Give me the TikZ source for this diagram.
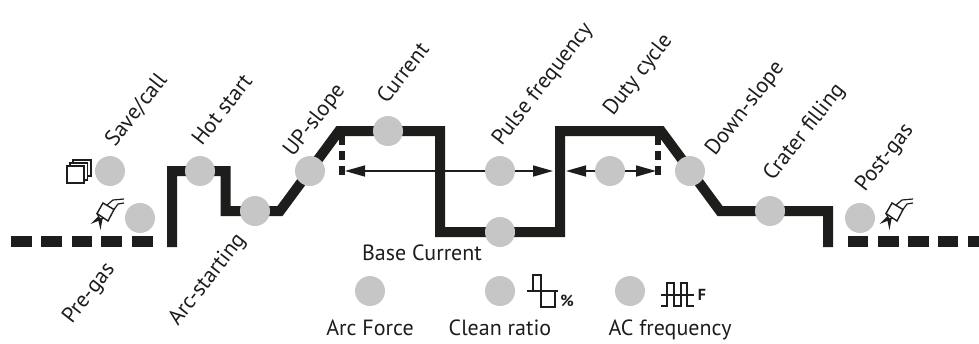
\documentclass[tikz,border=0pt]{standalone}
\usepackage{fontspec}
\setmainfont{PT Sans}
\usetikzlibrary{arrows.meta}
\definecolor{ink}{HTML}{1D1D1B}
\definecolor{dot}{HTML}{C6C6C6}
\tikzset{
 wave/.style={draw=ink,line width=10pt,miter limit=10},
 gasbar/.style={fill=ink,draw=none,minimum width=#1,minimum height=11pt,inner sep=0pt,outer sep=0pt},
 knob/.style={circle,fill=dot,draw=none,minimum size=30pt,inner sep=0pt},
 span/.style={draw=ink,line width=1.6pt,{Triangle[length=20pt,width=11pt]}-{Triangle[length=20pt,width=11pt]}},
 tick/.style={draw=ink,line width=6pt,dash pattern=on 9pt off 6pt},
 lab/.style={text=ink,font=\fontsize{22}{22}\selectfont,inner sep=0pt},
 slant/.style={lab,rotate=52,anchor=base west},
 flat/.style={lab,anchor=base},
 icon/.style={draw=ink,line width=1.2pt},
 iconb/.style={font=\bfseries\fontsize{16}{16}\selectfont,text=ink,inner sep=0pt},
 torch/.pic={
  \draw[icon,line width=1.4pt,fill=white] (0,0)--(11,6.5)--(5,18)--(-6,10.5)--cycle;
  \draw[icon] (4,2)--(10,-3)--(21,-4);
  \draw[icon] (11,6.5)--(15,1)--(21,0);
  \fill[ink] (-12.5,21)--(-5,13.5)--(-2.5,17)--cycle;
  \fill[ink] (-2.5,27)--(-5,16)--(-0.5,16)--cycle;
  \draw[icon] (-3,16)--(1,15);
  \draw[icon] (-3,16)--(-6,10.5);
 },
}
\begin{document}
\begin{tikzpicture}[x=1pt,y=-1pt]
\useasboundingbox (0,0) rectangle (979,343);
% waveform
\coordinate (a0) at (172,247); \coordinate (a1) at (172,171);
\coordinate (a2) at (225.5,171); \coordinate (a3) at (225.5,211);
\coordinate (a4) at (280,211); \coordinate (a5) at (339,131);
\coordinate (a6) at (440,131); \coordinate (a7) at (440,232);
\coordinate (a8) at (560,232); \coordinate (a9) at (560,131);
\coordinate (a10) at (661,131); \coordinate (a11) at (720,211);
\coordinate (a12) at (828,211); \coordinate (a13) at (828,247);
\draw[wave] (a0)--(a1)--(a2)--(a3)--(a4)--(a5)--(a6)--(a7)--(a8)--(a9)--(a10)--(a11)--(a12)--(a13);
% gas dashes
\foreach \n/\l/\r in {g1/11/32,g2/41/62,g3/72/92,g4/101/122,g5/132/153,h1/848/868,h2/878/899,h3/908/929,h4/938/958,h5/968/979}{
 \pgfmathsetmacro{\barw}{\r-\l}\pgfmathsetmacro{\barm}{(\r+\l)/2}
 \node[gasbar=\barw pt] (\n) at (\barm,241.5) {};}
% ticks and spans
\coordinate (t1) at (342,136); \coordinate (t2) at (342,177);
\coordinate (t3) at (658,136); \coordinate (t4) at (658,177);
\draw[tick] (t1)--(t2); \draw[tick] (t3)--(t4);
\coordinate (s1) at (345,171); \coordinate (s2) at (553,171);
\coordinate (s3) at (566,171); \coordinate (s4) at (656,171);
\draw[span] (s1)--(s2); \draw[span] (s3)--(s4);
% knobs
\node[knob] (save) at (110,171) {};
\node[knob] (pre) at (140,218) {};
\node[knob] (hot) at (200,171) {};
\node[knob] (arc) at (255,211) {};
\node[knob] (up) at (310,171) {};
\node[knob] (cur) at (388,131) {};
\node[knob] (pf) at (500,171) {};
\node[knob] (base) at (500,232) {};
\node[knob] (duty) at (610,171) {};
\node[knob] (down) at (690,171) {};
\node[knob] (crat) at (770,211) {};
\node[knob] (post) at (860,218) {};
\node[knob] (af) at (370,291) {};
\node[knob] (cr) at (500,291) {};
\node[knob] (acf) at (630,291) {};
% labels
\node[slant] (l1) at (115,148) {Save/call};
\node[slant] (l2) at (202,147) {Hot start};
\node[slant] (l3) at (293,158) {UP-slope};
\node[slant] (l4) at (387,105) {Current};
\node[slant] (l5) at (501.7,146.7) {Pulse frequency};
\node[slant] (l6) at (613,117) {Duty cycle};
\node[slant] (l7) at (715,157) {Down-slope};
\node[slant] (l8) at (773,182) {Crater filling};
\node[slant] (l9) at (865,193) {Post-gas};
\node[slant] (l10) at (72,325) {Pre-gas};
\node[slant] (l11) at (178,327) {Arc-starting};
\node[flat] (l12) at (422,260) {Base Current};
\node[flat] (l13) at (370,335) {Arc Force};
\node[flat] (l14) at (500,335) {Clean ratio};
\node[flat] (l15) at (670,335) {AC frequency};
% icons
\draw[icon,fill=white] (73,160) rectangle (91,176);
\draw[icon,fill=white] (70,163) rectangle (87.5,180);
\draw[icon,line width=1.5pt,fill=white] (67,166) rectangle (84,183);
\pic at (103,203) {torch};
\pic at (892,203) {torch};
\draw[icon] (527,291)--(558,291);
\draw[icon] (533,291)--(533,275)--(541,275)--(541,307)--(555,307)--(555,291);
\node[iconb] (pc) at (567,301) {\%};
\draw[icon] (661,295)--(694,295);
\draw[icon] (661,306)--(667,306)--(667,283)--(674,283)--(674,306)--(681,306)--(681,283)--(687,283)--(687,306)--(694,306);
\node[iconb] (ff) at (702,295) {F};
\end{tikzpicture}
\end{document}
